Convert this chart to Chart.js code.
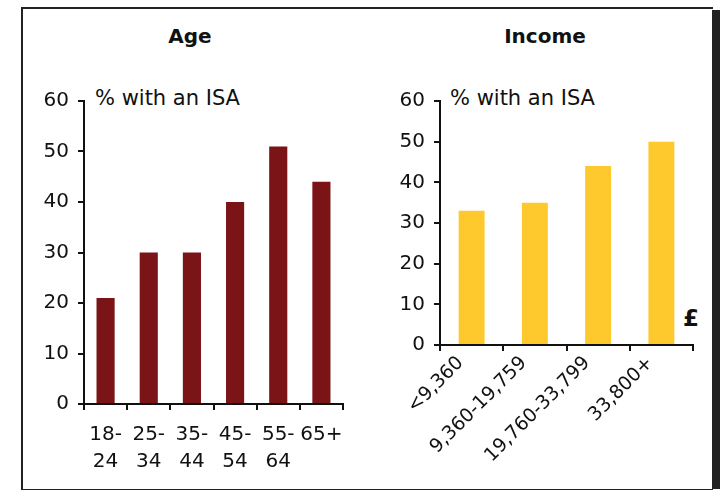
<!DOCTYPE html>
<html>
<head>
<meta charset="utf-8">
<script src="https://cdn.jsdelivr.net/npm/chart.js@4"></script>
<style>
  html, body { margin: 0; padding: 0; background: #fff; }
  body { width: 723px; height: 490px; position: relative; overflow: hidden; font-family: "DejaVu Sans", Verdana, sans-serif; color: #111; }
  .frame { position: absolute; left: 21px; top: 7px; width: 690px; height: 480px; border: 2px solid #222; border-right: none; }
  .shadow { position: absolute; left: 712px; top: 10px; width: 8px; height: 479px; background: #222; }
  .box { position: absolute; }
  .title { position: absolute; font-weight: bold; font-size: 20px; text-align: center; }
  .unit { position: absolute; font-size: 21px; }
  .pound { position: absolute; font-size: 23px; font-weight: bold; }
</style>
</head>
<body>
<div class="frame"></div>
<div class="shadow"></div>
<div class="title" style="left:140px; top:24px; width:100px;">Age</div>
<div class="title" style="left:490px; top:24px; width:110px;">Income</div>
<div class="unit" style="left:95px; top:86px;">% with an ISA</div>
<div class="unit" style="left:450px; top:86px;">% with an ISA</div>
<div class="pound" style="left:683px; top:305px;">£</div>
<div class="box" style="left:30px; top:80px; width:330px; height:410px;"><canvas id="ageChart"></canvas></div>
<div class="box" style="left:380px; top:80px; width:343px; height:410px;"><canvas id="incomeChart"></canvas></div>
<script>
const ageLabels = [['18-', '24'], ['25-', '34'], ['35-', '44'], ['45-', '54'], ['55-', '64'], '65+'];
const ageValues = [21, 30, 30, 40, 51, 44];
const incomeLabels = ['<9,360', '9,360-19,759', '19,760-33,799', '33,800+'];
const incomeValues = [33, 35, 44, 50];
const yTicks = [0, 10, 20, 30, 40, 50, 60];

const font = { family: '"DejaVu Sans", Verdana, sans-serif', size: 20 };

function makeChart(id, labels, values, color, opts) {
  return new Chart(document.getElementById(id), {
    type: 'bar',
    data: { labels, datasets: [{ data: values, backgroundColor: color, categoryPercentage: 1, barPercentage: opts.barPct }] },
    options: {
      responsive: true,
      maintainAspectRatio: false,
      animation: false,
      events: [],
      layout: { padding: { top: 21, right: opts.padRight, left: 0, bottom: 0 } },
      plugins: { legend: { display: false }, tooltip: { enabled: false } },
      scales: {
        x: {
          grid: { display: true, drawOnChartArea: false, drawTicks: true, tickLength: 6, color: '#111', lineWidth: 2, offset: true },
          border: { color: '#111', width: 2 },
          ticks: { color: '#111', font: opts.xFont, padding: opts.xPad, labelOffset: opts.labelOffset, maxRotation: opts.rot, minRotation: opts.rot, autoSkip: false },
          afterFit: (axis) => { axis.height = opts.xHeight; }
        },
        y: {
          min: 0, max: 60,
          afterBuildTicks: (axis) => { axis.ticks = yTicks.map(v => ({ value: v })); },
          grid: { display: true, drawOnChartArea: false, drawTicks: true, tickLength: 6, color: '#111', lineWidth: 2 },
          border: { color: '#111', width: 2 },
          ticks: { color: '#111', font, padding: 9 },
          afterFit: (axis) => { axis.width = opts.yWidth; }
        }
      }
    }
  });
}

makeChart('ageChart', ageLabels, ageValues, '#7b1416', {
  barPct: 0.42, padRight: 17, yWidth: 54, xHeight: 86, xPad: 11, labelOffset: 0, rot: 0,
  xFont: { ...font, lineHeight: 1.35 }
});
makeChart('incomeChart', incomeLabels, incomeValues, '#fec92c', {
  barPct: 0.41, padRight: 30, yWidth: 60, xHeight: 145, xPad: 1, labelOffset: -11, rot: 45,
  xFont: { ...font, size: 19 }
});
</script>
</body>
</html>
